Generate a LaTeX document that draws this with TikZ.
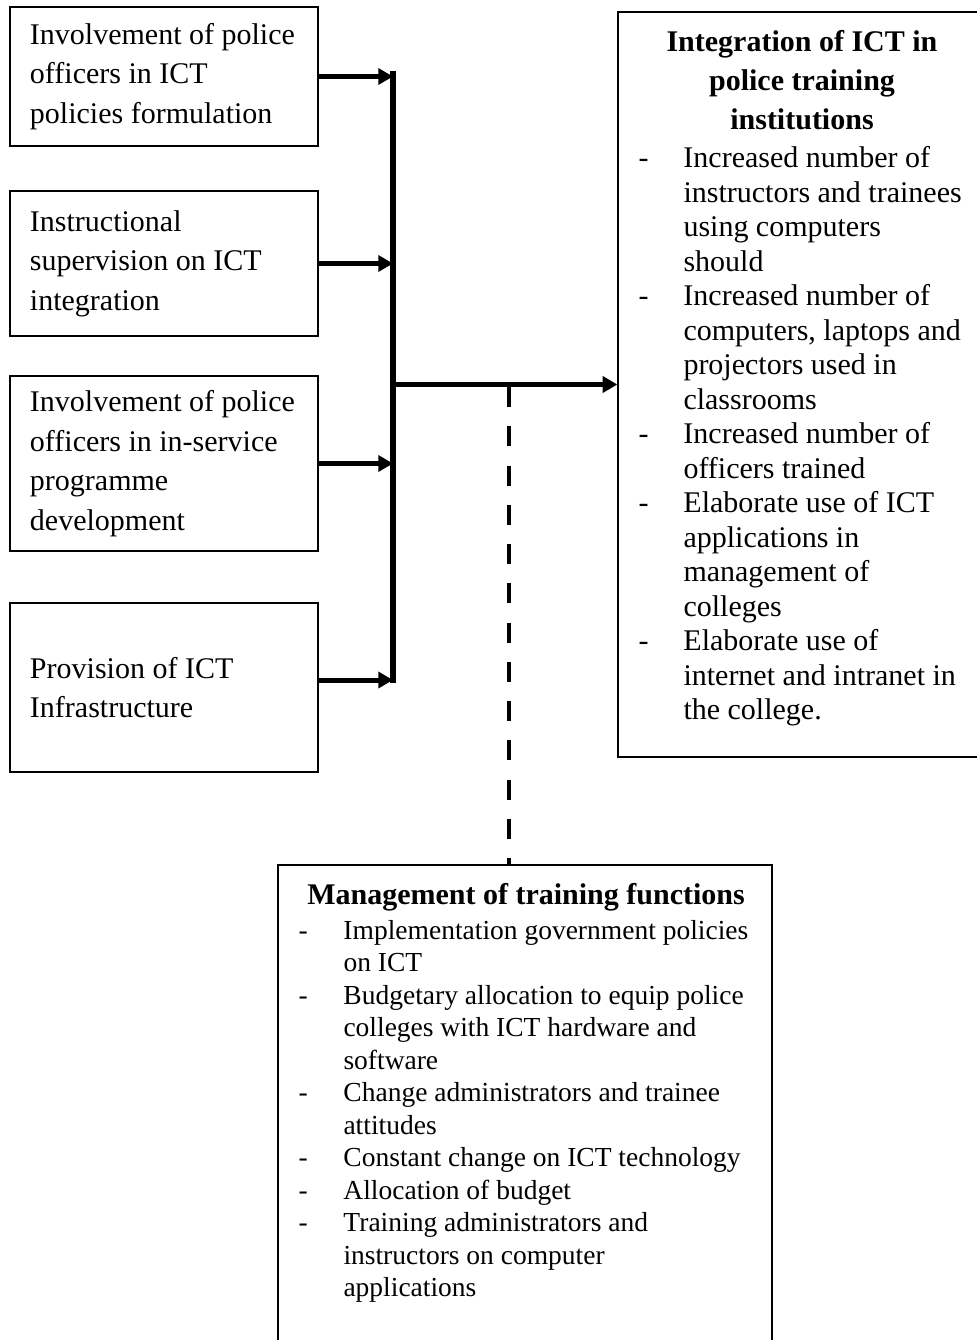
\documentclass[tikz,border=0pt]{standalone}
\usepackage{fontspec}
\setmainfont{Liberation Serif}
\usetikzlibrary{arrows.meta}
\tikzset{
  inbox/.style={draw, line width=0.5pt, minimum width=123.2pt, text width=107.2pt,
    inner xsep=8pt, inner ysep=0pt, align=left, font=\fontsize{12}{15.8}\selectfont,
    execute at begin node={\spaceskip=0pt\xspaceskip=0pt\relax}},
  panel/.style={draw, line width=0.5pt, inner sep=0pt},
  heading/.style={inner sep=0pt, anchor=north, align=center, font=\bfseries\fontsize{12}{15.6}\selectfont},
  itemlist/.style={inner sep=0pt, anchor=north west},
  link/.style={line width=2pt, -{Triangle[length=5.9pt,width=6.4pt]}},
  spine/.style={line width=2.3pt},
  linkdash/.style={line width=1.8pt, dash pattern=on 8pt off 7.7pt}
}
\begin{document}
\begin{tikzpicture}[x=0.4pt, y=-0.4pt]
    \useasboundingbox (0,0) rectangle (977,1340);
    \node[inbox, minimum height=55.6pt] (inv1) at (164,76.5) {Involvement of police\\officers in ICT\\policies formulation};
    \node[inbox, minimum height=58pt] (sup) at (164,263.5) {Instructional\\supervision on ICT\\integration};
    \node[inbox, minimum height=70pt] (inv2) at (164,463.5) {Involvement of police\\officers in in-service\\programme\\development};
    \node[inbox, minimum height=67.6pt] (infra) at (164,687.5) {Provision of ICT\\Infrastructure};

    \node[panel, minimum width=145.6pt, minimum height=298pt] (outcome) at (800,384.5) {};
    \node[heading] (outtitle) at (802,29.5) {Integration of ICT in\\police training\\institutions};
    \node[itemlist, font=\fontsize{12}{13.8}\selectfont] (outlist) at (638,143) {\begin{tabular}{@{}p{18pt}@{}l@{}}
        -&Increased number of\\
         &instructors and trainees\\
         &using computers\\
         &should\\
        -&Increased number of\\
         &computers, laptops and\\
         &projectors used in\\
         &classrooms\\
        -&Increased number of\\
         &officers trained\\
        -&Elaborate use of ICT\\
         &applications in\\
         &management of\\
         &colleges\\
        -&Elaborate use of\\
         &internet and intranet in\\
         &the college.
    \end{tabular}};

    \node[panel, minimum width=197.6pt, minimum height=194pt] (mgmt) at (525,1107.5) {};
    \node[heading] (mgmttitle) at (526,882.5) {Management of training functions};
    \node[itemlist, font=\fontsize{11}{13}\selectfont] (mgmtlist) at (298,916) {\begin{tabular}{@{}p{18pt}@{}l@{}}
        -&Implementation government policies\\
         &on ICT\\
        -&Budgetary allocation to equip police\\
         &colleges with ICT hardware and\\
         &software\\
        -&Change administrators and trainee\\
         &attitudes\\
        -&Constant change on ICT technology\\
        -&Allocation of budget\\
        -&Training administrators and\\
         &instructors on computer\\
         &applications
    \end{tabular}};

    \coordinate (bartop) at (393,71);
    \coordinate (barbot) at (393,682.5);
    \draw[spine] (bartop) -- (barbot);
    \draw[link] (inv1.east) -- (inv1.east -| bartop);
    \draw[link] (sup.east) -- (sup.east -| bartop);
    \draw[link] (inv2.east) -- (inv2.east -| bartop);
    \draw[link] ([yshift=3pt]infra.east) -- ([yshift=3pt]infra.east -| bartop);
    \draw[link] (bartop |- outcome.west) -- (outcome.west);
    \coordinate (dashtop) at (509,387);
    \draw[linkdash] (dashtop) -- (dashtop |- mgmt.north);
\end{tikzpicture}
\end{document}
